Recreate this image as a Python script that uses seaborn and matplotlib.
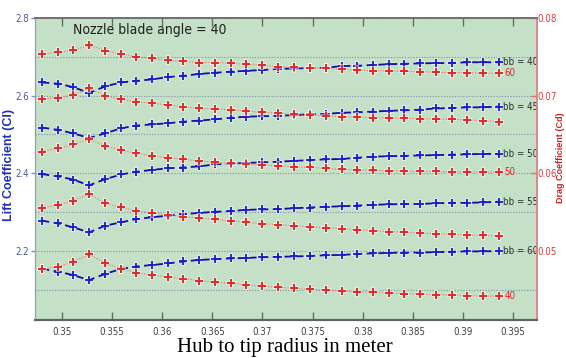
import matplotlib
matplotlib.use("Agg")
import matplotlib.pyplot as plt
from matplotlib import font_manager
from matplotlib.ticker import FixedLocator
import pandas as pd
import seaborn as sns

# =====================
# DATA
# =====================
radius = [0.3480, 0.3496, 0.3511, 0.3527, 0.3543, 0.3559, 0.3574, 0.3590, 0.3606, 0.3621,
          0.3637, 0.3653, 0.3669, 0.3684, 0.3700, 0.3716, 0.3731, 0.3747, 0.3763, 0.3779,
          0.3794, 0.3810, 0.3826, 0.3841, 0.3857, 0.3873, 0.3889, 0.3904, 0.3920, 0.3936]

# lift coefficient, one curve per blade angle (left axis)
cl_bb40 = [2.634, 2.631, 2.622, 2.607, 2.624, 2.634, 2.638, 2.642, 2.648, 2.651,
           2.656, 2.659, 2.662, 2.664, 2.666, 2.669, 2.670, 2.671, 2.672, 2.676,
           2.677, 2.679, 2.681, 2.682, 2.683, 2.684, 2.684, 2.686, 2.686, 2.686]
cl_bb45 = [2.518, 2.512, 2.503, 2.491, 2.503, 2.516, 2.523, 2.526, 2.529, 2.533,
           2.536, 2.539, 2.543, 2.546, 2.547, 2.548, 2.550, 2.552, 2.553, 2.556,
           2.557, 2.559, 2.561, 2.562, 2.564, 2.567, 2.568, 2.570, 2.570, 2.572]
cl_bb50 = [2.398, 2.392, 2.384, 2.369, 2.385, 2.397, 2.404, 2.409, 2.413, 2.415,
           2.418, 2.423, 2.425, 2.427, 2.428, 2.430, 2.432, 2.434, 2.436, 2.437,
           2.440, 2.443, 2.444, 2.445, 2.446, 2.447, 2.448, 2.449, 2.450, 2.450]
cl_bb55 = [2.278, 2.271, 2.261, 2.248, 2.265, 2.274, 2.282, 2.287, 2.291, 2.295,
           2.298, 2.301, 2.303, 2.306, 2.307, 2.308, 2.310, 2.312, 2.314, 2.315,
           2.317, 2.319, 2.320, 2.321, 2.321, 2.323, 2.324, 2.324, 2.325, 2.327]
cl_bb60 = [2.154, 2.147, 2.138, 2.125, 2.141, 2.154, 2.160, 2.164, 2.168, 2.173,
           2.177, 2.179, 2.181, 2.182, 2.184, 2.185, 2.186, 2.187, 2.189, 2.190,
           2.192, 2.194, 2.195, 2.196, 2.196, 2.197, 2.198, 2.199, 2.199, 2.200]

# drag coefficient (right axis)
cd_bb60 = [0.07537, 0.07556, 0.07582, 0.07652, 0.07579, 0.07534, 0.07502, 0.07479, 0.07453, 0.07440,
           0.07427, 0.07427, 0.07417, 0.07404, 0.07391, 0.07373, 0.07365, 0.07356, 0.07350, 0.07337,
           0.07331, 0.07322, 0.07318, 0.07314, 0.07309, 0.07301, 0.07296, 0.07296, 0.07288, 0.07288]
cd_bb55 = [0.06953, 0.06974, 0.07009, 0.07095, 0.07000, 0.06953, 0.06922, 0.06902, 0.06880, 0.06858,
           0.06837, 0.06828, 0.06816, 0.06803, 0.06786, 0.06773, 0.06760, 0.06751, 0.06742, 0.06729,
           0.06722, 0.06719, 0.06713, 0.06709, 0.06706, 0.06700, 0.06696, 0.06687, 0.06680, 0.06665]
cd_bb50 = [0.06279, 0.06322, 0.06374, 0.06438, 0.06356, 0.06300, 0.06258, 0.06227, 0.06201, 0.06181,
           0.06159, 0.06142, 0.06129, 0.06116, 0.06107, 0.06098, 0.06085, 0.06078, 0.06065, 0.06052,
           0.06043, 0.06039, 0.06034, 0.06030, 0.06026, 0.06024, 0.06021, 0.06020, 0.06017, 0.06017]
cd_bb45 = [0.05558, 0.05592, 0.05648, 0.05734, 0.05614, 0.05563, 0.05515, 0.05493, 0.05464, 0.05444,
           0.05425, 0.05406, 0.05386, 0.05370, 0.05352, 0.05339, 0.05326, 0.05313, 0.05300, 0.05287,
           0.05274, 0.05261, 0.05251, 0.05241, 0.05232, 0.05223, 0.05215, 0.05206, 0.05200, 0.05193]
cd_bb40 = [0.04768, 0.04798, 0.04862, 0.04958, 0.04842, 0.04768, 0.04721, 0.04691, 0.04665, 0.04646,
           0.04620, 0.04597, 0.04584, 0.04562, 0.04549, 0.04533, 0.04520, 0.04507, 0.04498, 0.04485,
           0.04476, 0.04468, 0.04459, 0.04453, 0.04446, 0.04440, 0.04434, 0.04427, 0.04421, 0.04417]

cl_labels = ["bb = 40", "bb = 45", "bb = 50", "bb = 55", "bb = 60"]
cd_labels = ["60", "", "50", "", "40"]

x_ticks = [0.35, 0.355, 0.36, 0.365, 0.37, 0.375, 0.38, 0.385, 0.39, 0.395]
x_tick_labels = ["0.35", "0.355", "0.36", "0.365", "0.37", "0.375", "0.38", "0.385", "0.39", "0.395"]
cl_ticks = [2.2, 2.4, 2.6, 2.8]
cl_tick_labels = ["2.2", "2.4", "2.6", "2.8"]
cl_grid = [2.1, 2.3, 2.5, 2.7]
cd_ticks = [0.05, 0.06, 0.07, 0.08]
cd_tick_labels = ["0.05", "0.06", "0.07", "0.08"]

# long tables for seaborn
cl_df = pd.concat([pd.DataFrame({"radius": radius, "Cl": v, "bb": lab})
                   for v, lab in zip([cl_bb40, cl_bb45, cl_bb50, cl_bb55, cl_bb60], cl_labels)])
cd_df = pd.concat([pd.DataFrame({"radius": radius, "Cd": v, "curve": i})
                   for i, v in enumerate([cd_bb60, cd_bb55, cd_bb50, cd_bb45, cd_bb40])])

# =====================
# STYLE
# =====================
sns.set_style("white")

# pick a narrow face if one is installed
narrow_family, narrow_stretch = "Liberation Sans", "normal"
for f in font_manager.fontManager.ttflist:
    is_cond = ("Narrow" in f.name or "Condensed" in f.name
               or f.stretch in ("condensed", "semi-condensed"))
    if is_cond and f.style == "normal" and f.weight in (400, "normal", "regular"):
        narrow_family, narrow_stretch = f.name, f.stretch
        break
plt.rcParams["font.family"] = [narrow_family, "DejaVu Sans"]
plt.rcParams["font.stretch"] = narrow_stretch
is_narrow = narrow_family != "Liberation Sans"
small = 7 if is_narrow else 6.2
tiny = 7 if is_narrow else 5.0

BG = "#c4e0c6"
BLUE = "#10109a"
BLUE_HALO = "#8c90e8"
RED = "#e02a2a"
RED_HALO = "#f0a0a0"
RED_LINE = "#e07858"

fig = plt.figure(figsize=(5.66, 3.58), dpi=100)
ax = fig.add_axes([35 / 566, 38 / 358, 502 / 566, 302 / 358])
ax.set_facecolor(BG)
ax2 = ax.twinx()
ax2.patch.set_visible(False)

# grid lines every 0.1 on the left axis
for g in cl_ticks + cl_grid:
    ax.axhline(g, color="#7f93a8", lw=0.8, ls=(0, (1, 1.5)), zorder=0.5)

# =====================
# LIFT CURVES
# =====================
for lab, grp in cl_df.groupby("bb", sort=False):
    sns.lineplot(data=grp, x="radius", y="Cl", ax=ax, estimator=None, sort=False,
                 color=BLUE_HALO, lw=0, marker="+", markersize=7, mew=2.8, alpha=0.45, legend=False)
    sns.lineplot(data=grp, x="radius", y="Cl", ax=ax, estimator=None, sort=False,
                 color=BLUE, lw=1.3, linestyle=(0, (4, 2.5)), marker="+", markersize=6,
                 mew=1.3, markeredgecolor="#1a1ad0", legend=False)
    ax.annotate(lab, xy=(grp["radius"].iloc[-1], grp["Cl"].iloc[-1]), xytext=(3, 0),
                textcoords="offset points", va="center", ha="left", fontsize=small, color="#303030")

# =====================
# DRAG CURVES
# =====================
for i, grp in cd_df.groupby("curve"):
    sns.lineplot(data=grp, x="radius", y="Cd", ax=ax2, estimator=None, sort=False,
                 color=RED_HALO, lw=0, marker="+", markersize=7, mew=2.8, alpha=0.55, legend=False)
    sns.lineplot(data=grp, x="radius", y="Cd", ax=ax2, estimator=None, sort=False,
                 color=RED_LINE, lw=0.8, linestyle=(0, (1, 1.5)), marker="+", markersize=5.5,
                 mew=1.4, markeredgecolor=RED, legend=False)
    if cd_labels[i]:
        ax2.annotate(cd_labels[i], xy=(grp["radius"].iloc[-1], grp["Cd"].iloc[-1]), xytext=(4, 0),
                     textcoords="offset points", va="center", ha="left", fontsize=small, color=RED)

# =====================
# AXES
# =====================
ax.set_xlim(0.3473, 0.3974)
ax.set_ylim(2.0223, 2.8)
ax2.set_ylim(0.04112, 0.08)

ax.xaxis.set_major_locator(FixedLocator(x_ticks))
ax.set_xticklabels(x_tick_labels)
ax.set_yticks(cl_ticks)
ax.set_yticklabels(cl_tick_labels)
ax2.set_yticks(cd_ticks)
ax2.set_yticklabels(cd_tick_labels)

ax.tick_params(axis="x", direction="in", length=6, width=1, color="#607060",
               labelsize=small, labelcolor="#404040", pad=5, top=True, bottom=True)
ax.tick_params(axis="y", direction="out", length=3, width=1, color="#8088c8",
               labelsize=small, labelcolor="#505a90", pad=1)
ax2.tick_params(axis="y", direction="in", length=4, width=1, color="#e07070",
                labelsize=tiny, labelcolor="#d04040", pad=0.5)

for a in (ax, ax2):
    a.spines["bottom"].set_color("#5a665a")
    a.spines["bottom"].set_linewidth(1.5)
    a.spines["top"].set_color("#707070")
    a.spines["top"].set_linewidth(1.2)
    a.spines["left"].set_color("#9098d8")
    a.spines["right"].set_color("#e08888")
    a.spines["right"].set_linewidth(1.2)

ax.set_xlabel("Hub to tip radius in meter", family="Liberation Serif", fontsize=15,
              color="black", stretch="normal")
ax.xaxis.set_label_coords(0.498, -0.058)
ax.set_ylabel("Lift Coefficient (Cl)", family="Liberation Sans", fontweight="bold",
              fontsize=9, color="#2233b0", stretch="normal")
ax.yaxis.set_label_coords(-0.040, 0.513)
ax2.set_ylabel("Drag Coefficient (Cd)", family="Liberation Sans", fontweight="bold",
               fontsize=6.5, color="#d42020", rotation=90, stretch="normal")
ax2.yaxis.set_label_coords(1.0375, 0.536)

ax.text(0.0757, 0.983, "Nozzle blade angle = 40", transform=ax.transAxes,
        ha="left", va="top", fontsize=10 if is_narrow else 9.5, color="#202020")

fig.savefig("out.png", dpi=100)
